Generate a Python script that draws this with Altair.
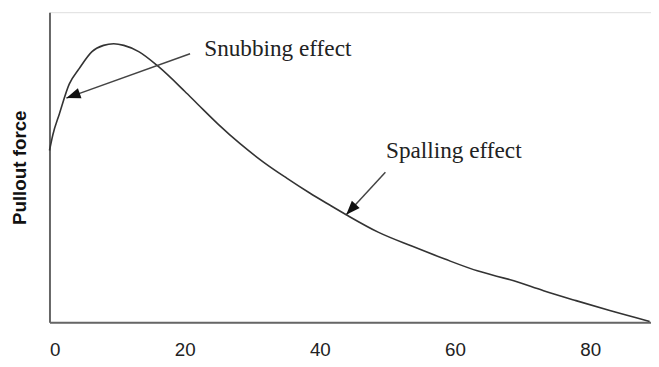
import math
import altair as alt
import pandas as pd

# Curve
slip = [0, 0.5, 1.46, 2.92, 4.39, 6.29, 8.0, 9.5, 11.0, 13.2, 16.1, 20.0, 21.9, 24.9,
        28.2, 31.7, 35.1, 38.5, 41.4, 43.9, 48.7, 53.7, 58.5, 63.3, 68.7, 73.1,
        77.9, 82.9, 88.8]
force = [55.4, 60.5, 67.2, 76.8, 81.8, 87.3, 89.3, 89.8, 89.3, 87.3, 82.5, 74.5, 70.4,
         64.0, 57.6, 51.6, 46.5, 41.7, 37.9, 34.7, 29.0, 24.5, 20.4, 16.6, 13.4,
         10.2, 7.0, 3.8, 0.3]

x_ticks = [0, 20, 40, 60, 80]

# Annotations
labels = ["Snubbing effect", "Spalling effect"]
label_x = [22.9, 49.8]
label_y = [86.0, 52.9]
arrow_x0 = [20.8, 49.7]
arrow_y0 = [86.6, 48.4]
arrow_x1 = [2.5, 43.9]
arrow_y1 = [72.3, 34.7]

W, H = 609, 314
XMAX, YMAX = 89, 100
px_x = W / XMAX
px_y = H / YMAX

curve = pd.DataFrame({"x": slip, "y": force})
ann = pd.DataFrame({"label": labels, "lx": label_x, "ly": label_y})
arr = pd.DataFrame({"x0": arrow_x0, "y0": arrow_y0, "x1": arrow_x1, "y1": arrow_y1})
arr["angle"] = [
    (math.degrees(math.atan2((b - a) * px_x, (d - c) * px_y)) + 360) % 360
    for a, b, c, d in zip(arr.x0, arr.x1, arr.y0, arr.y1)
]

xs = alt.Scale(domain=[0, XMAX], nice=False)
ys = alt.Scale(domain=[0, YMAX], nice=False)

x_axis = alt.Axis(values=x_ticks, ticks=False, grid=False, labelFont="Liberation Sans",
                  labelFontSize=19, labelColor="#222", labelPadding=19,
                  domainColor="#666", domainWidth=2, title=None)
y_axis = alt.Axis(labels=False, ticks=False, grid=False, domainColor="#666", domainWidth=2,
                  title="Pullout force", titleFont="Liberation Sans", titleFontSize=19,
                  titleFontWeight="bold", titleColor="#111", titlePadding=20)

line = alt.Chart(curve).mark_line(color="#333", strokeWidth=1.6, interpolate="monotone").encode(
    x=alt.X("x:Q", scale=xs, axis=x_axis),
    y=alt.Y("y:Q", scale=ys, axis=y_axis),
)

shafts = alt.Chart(arr).mark_rule(color="#444", strokeWidth=1.5).encode(
    x=alt.X("x0:Q", scale=xs), y=alt.Y("y0:Q", scale=ys),
    x2="x1:Q", y2="y1:Q",
)

heads = alt.Chart(arr).mark_point(
    shape="M0,0L-0.6,1.6L0.6,1.6Z", filled=True, color="#111", opacity=1, size=320
).encode(
    x=alt.X("x1:Q", scale=xs), y=alt.Y("y1:Q", scale=ys),
    angle=alt.Angle("angle:Q", scale=None),
)

texts = alt.Chart(ann).mark_text(
    align="left", baseline="alphabetic", font="Liberation Serif", fontSize=23.5, color="#222"
).encode(
    x=alt.X("lx:Q", scale=xs), y=alt.Y("ly:Q", scale=ys), text="label:N",
)

chart = alt.layer(line, shafts, heads, texts).properties(
    width=W, height=H,
    autosize=alt.AutoSizeParams(type="none"),
    padding={"left": 42, "top": 2, "right": 0, "bottom": 45},
).configure_view(stroke=None).configure(background="white")

chart.save("out.html", embed_options={"renderer": "svg", "actions": False})
